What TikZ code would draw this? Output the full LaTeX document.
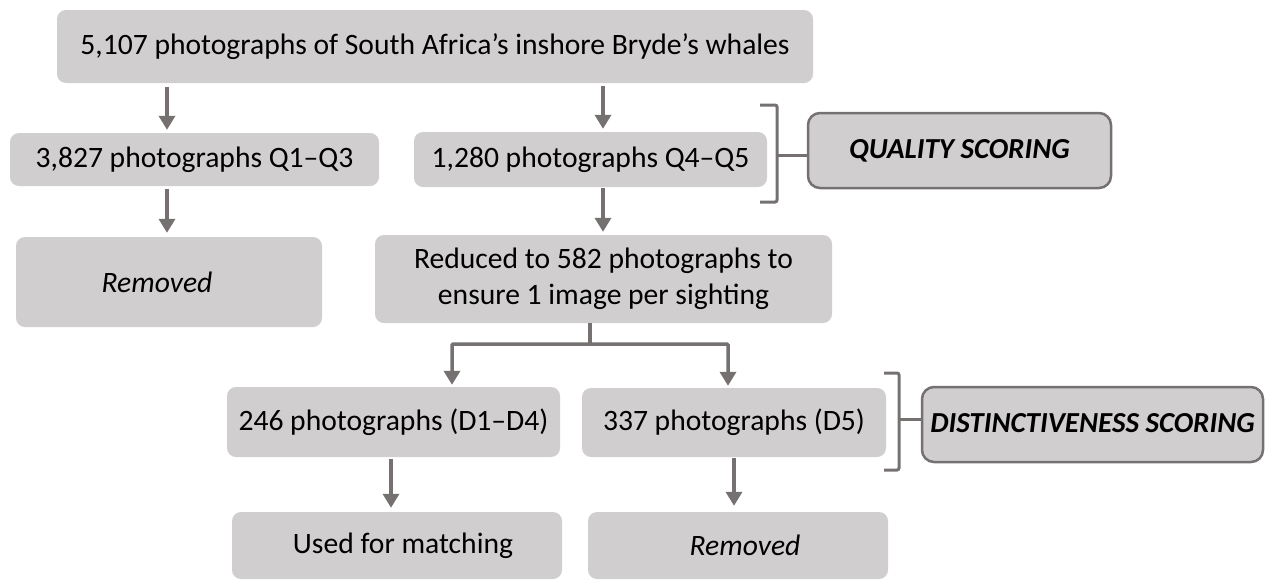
\documentclass[tikz,border=0pt]{standalone}
\usepackage{fontspec}
\setmainfont{Carlito}
\usetikzlibrary{arrows.meta}
\definecolor{boxgray}{HTML}{D0CECE}
\definecolor{linegray}{HTML}{767171}
\begin{document}
\begin{tikzpicture}[x=1pt,y=-1pt,
  stepbox/.style={fill=boxgray, rounded corners=9pt, inner sep=0pt, align=center,
    font=\fontsize{29.6}{34}\selectfont},
  scorebox/.style={fill=boxgray, draw=linegray, line width=2.5pt, rounded corners=12pt,
    inner sep=0pt, align=center, font=\fontsize{29}{34}\selectfont\bfseries\itshape},
  arr/.style={draw=linegray, line width=3.5pt, -{Triangle[width=16pt,length=14pt]}},
  link/.style={draw=linegray, line width=3.5pt},
  brace/.style={draw=linegray, line width=3pt, rounded corners=2pt}]
\useasboundingbox (0,0) rectangle (1276,581);

% flow boxes
\node[stepbox, minimum width=756pt, minimum height=73pt] (top) at (435,46.5)
  {5,107 photographs of South Africa’s inshore Bryde’s whales};
\node[stepbox, minimum width=369pt, minimum height=53pt] (q13) at (194.5,159.5)
  {3,827 photographs Q1\textendash Q3};
\node[stepbox, minimum width=353pt, minimum height=55pt] (q45) at (590.5,159.5)
  {1,280 photographs Q4\textendash Q5};
\node[stepbox, minimum width=306pt, minimum height=90pt] (rem1) at (169,282)
  {\itshape Removed\hspace*{24pt}};
\node[stepbox, minimum width=457pt, minimum height=88pt] (red) at (603.5,279)
  {\raisebox{2pt}{Reduced to 582 photographs to}\\ensure 1 image per sighting};
\node[stepbox, minimum width=333pt, minimum height=70pt] (d14) at (393.5,422)
  {246 photographs (D1\textendash D4)};
\node[stepbox, minimum width=304pt, minimum height=69pt] (d5) at (734,422.5)
  {337 photographs (D5)};
\node[stepbox, minimum width=330pt, minimum height=67pt] (used) at (397,545.5)
  {\hspace*{12pt}Used for matching};
\node[stepbox, minimum width=300pt, minimum height=67pt] (rem2) at (738,545.5)
  {\itshape \hspace*{14pt}Removed};

% scoring labels
\node[scorebox, minimum width=303pt, minimum height=75pt] (qs) at (959.5,150.5)
  {QUALITY SCORING};
\node[scorebox, minimum width=341pt, minimum height=75pt] (ds) at (1092.5,424.5)
  {\raisebox{4pt}{DISTINCTIVENESS SCORING}};

% arrows between steps
\draw[arr, shorten <=4pt, shorten >=3pt]
  ([xshift=-27.5pt]q13.north |- top.south) -- ([xshift=-27.5pt]q13.north);
\draw[arr, shorten <=3pt, shorten >=3pt]
  ([xshift=12.5pt]q45.north |- top.south) -- ([xshift=12.5pt]q45.north);
\draw[arr, shorten <=3pt, shorten >=4pt]
  ([xshift=-2pt]rem1.north |- q13.south) -- ([xshift=-2pt]rem1.north);
\draw[arr, shorten <=1pt, shorten >=3pt]
  ([xshift=-0.5pt]red.north |- q45.south) -- ([xshift=-0.5pt]red.north);

% split below the reduced set
\draw[link] ([xshift=-13.5pt]red.south) -- ++(0,21) coordinate (fork);
\draw[arr, shorten >=2pt, rounded corners=1pt] (fork) -| ([xshift=58.5pt]d14.north);
\draw[arr, shorten >=2pt, rounded corners=1pt] (fork) -| ([xshift=-6pt]d5.north);

\draw[arr, shorten <=2pt, shorten >=4pt]
  ([xshift=-6pt]used.north |- d14.south) -- ([xshift=-6pt]used.north);
\draw[arr, shorten <=1pt, shorten >=6pt]
  ([xshift=-4pt]rem2.north |- d5.south) -- ([xshift=-4pt]rem2.north);

% brackets grouping the scored sets
\coordinate (qb1) at (760,105);
\coordinate (qb2) at (777,155);
\coordinate (qb3) at (760,202);
\draw[brace] (qb1) -- (qb1 -| qb2) -- (qb3 -| qb2) -- (qb3);
\draw[brace] (qb2) -- (qb2 -| qs.west);
\coordinate (db1) at (884,373);
\coordinate (db2) at (899,419);
\coordinate (db3) at (884,470);
\draw[brace] (db1) -- (db1 -| db2) -- (db3 -| db2) -- (db3);
\draw[brace] (db2) -- (db2 -| ds.west);
\end{tikzpicture}
\end{document}
